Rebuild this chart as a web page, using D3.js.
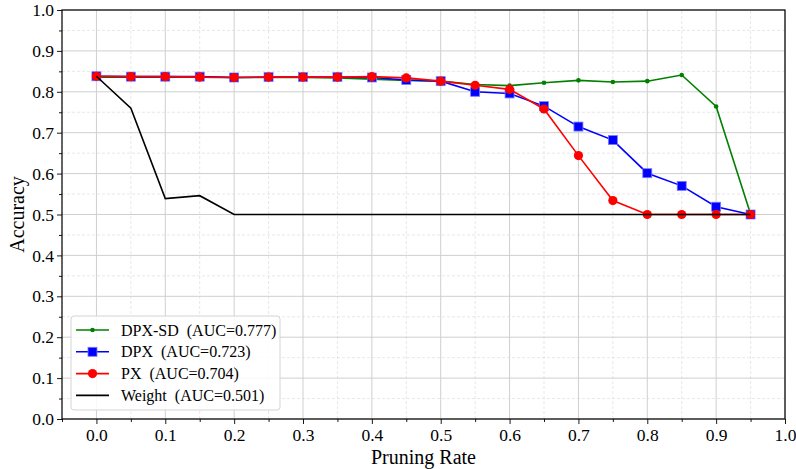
<!DOCTYPE html>
<html>
<head>
<meta charset="utf-8">
<script src="https://cdn.jsdelivr.net/npm/d3@7"></script>
<style>
  body { margin: 0; background: #fff; }
  svg text { font-family: "Liberation Serif", "Times New Roman", Times, "DejaVu Serif", serif !important; }
</style>
</head>
<body>
<script>
// pruning rates and accuracy per method
var rates = [0.0, 0.05, 0.1, 0.15, 0.2, 0.25, 0.3, 0.35, 0.4, 0.45, 0.5, 0.55, 0.6, 0.65, 0.7, 0.75, 0.8, 0.85, 0.9, 0.95];
var dpxsd = [0.836, 0.836, 0.836, 0.836, 0.835, 0.835, 0.835, 0.834, 0.831, 0.828, 0.826, 0.818, 0.815, 0.822, 0.828, 0.824, 0.826, 0.841, 0.764, 0.501];
var dpx = [0.838, 0.837, 0.837, 0.837, 0.835, 0.836, 0.836, 0.836, 0.835, 0.829, 0.826, 0.800, 0.796, 0.765, 0.715, 0.682, 0.601, 0.570, 0.519, 0.500];
var px = [0.838, 0.837, 0.837, 0.836, 0.835, 0.836, 0.836, 0.836, 0.837, 0.834, 0.826, 0.816, 0.806, 0.758, 0.644, 0.534, 0.500, 0.500, 0.500, 0.500];
var weight = [0.838, 0.760, 0.539, 0.546, 0.500, 0.500, 0.500, 0.500, 0.500, 0.500, 0.500, 0.500, 0.500, 0.500, 0.500, 0.500, 0.500, 0.500, 0.500, 0.500];
var labels = ["DPX-SD  (AUC=0.777)", "DPX  (AUC=0.723)", "PX  (AUC=0.704)", "Weight  (AUC=0.501)"];
var xTicks = [0, 0.1, 0.2, 0.3, 0.4, 0.5, 0.6, 0.7, 0.8, 0.9, 1.0];
var yTicks = [0, 0.1, 0.2, 0.3, 0.4, 0.5, 0.6, 0.7, 0.8, 0.9, 1.0];

var width = 796, height = 469;
var margin = {top: 10, right: 11, bottom: 50, left: 62};
var serif = "'Liberation Serif', 'Times New Roman', serif";

var svg = d3.select("body").append("svg")
    .attr("width", width)
    .attr("height", height)
    .attr("font-family", serif);

var x = d3.scaleLinear().domain([-0.05, 1.0]).range([margin.left, width - margin.right]);
var y = d3.scaleLinear().domain([0, 1.0]).range([height - margin.bottom, margin.top]);

var minorX = d3.range(-0.05, 1.0001, 0.05).map(function(d) { return Math.round(d * 100) / 100; })
    .filter(function(d) { return xTicks.indexOf(d) < 0; });
var minorY = d3.range(0.05, 1.0, 0.1).map(function(d) { return Math.round(d * 100) / 100; });

// grid
var grid = svg.append("g");
grid.selectAll(".mx").data(minorX).enter().append("line")
    .attr("x1", function(d) { return x(d); }).attr("x2", function(d) { return x(d); })
    .attr("y1", y(0)).attr("y2", y(1))
    .style("stroke", "#d6d6d6").style("stroke-width", 0.6).style("stroke-dasharray", "3,2");
grid.selectAll(".my").data(minorY).enter().append("line")
    .attr("x1", x(-0.05)).attr("x2", x(1.0))
    .attr("y1", function(d) { return y(d); }).attr("y2", function(d) { return y(d); })
    .style("stroke", "#d6d6d6").style("stroke-width", 0.6).style("stroke-dasharray", "3,2");
grid.selectAll(".gx").data(xTicks).enter().append("line")
    .attr("x1", function(d) { return x(d); }).attr("x2", function(d) { return x(d); })
    .attr("y1", y(0)).attr("y2", y(1))
    .style("stroke", "#cfcfcf").style("stroke-width", 1);
grid.selectAll(".gy").data(yTicks).enter().append("line")
    .attr("x1", x(-0.05)).attr("x2", x(1.0))
    .attr("y1", function(d) { return y(d); }).attr("y2", function(d) { return y(d); })
    .style("stroke", "#cfcfcf").style("stroke-width", 1);

// series
var series = [
  {vals: dpxsd, color: "green", marker: "dot"},
  {vals: dpx, color: "blue", marker: "square"},
  {vals: px, color: "red", marker: "circle"},
  {vals: weight, color: "black", marker: "none"}
];

var line = d3.line()
    .x(function(d, i) { return x(rates[i]); })
    .y(function(d) { return y(d); });

function drawMarker(g, mk, color, cx, cy) {
  if (mk == "dot") {
    g.append("circle").attr("cx", cx).attr("cy", cy).attr("r", 2.3).style("fill", color);
  } else if (mk == "square") {
    g.append("rect").attr("x", cx - 4.5).attr("y", cy - 4.5).attr("width", 9).attr("height", 9)
      .style("fill", color).style("stroke", "#7b7bff").style("stroke-width", 0.8);
  } else if (mk == "circle") {
    g.append("circle").attr("cx", cx).attr("cy", cy).attr("r", 4.6).style("fill", color);
  }
}

series.forEach(function(s) {
  var g = svg.append("g");
  g.append("path")
    .datum(s.vals)
    .attr("d", line)
    .style("fill", "none")
    .style("stroke", s.color)
    .style("stroke-width", 1.6);
  s.vals.forEach(function(v, i) { drawMarker(g, s.marker, s.color, x(rates[i]), y(v)); });
});

// frame
svg.append("rect")
    .attr("x", x(-0.05)).attr("y", y(1))
    .attr("width", x(1.0) - x(-0.05)).attr("height", y(0) - y(1))
    .style("fill", "none").style("stroke", "#000").style("stroke-width", 1.2);

// axes
svg.append("g")
    .attr("transform", "translate(0," + y(0) + ")")
    .call(d3.axisBottom(x).tickValues(xTicks).tickFormat(d3.format(".1f")).tickSize(5).tickPadding(5));
svg.append("g")
    .attr("transform", "translate(0," + y(0) + ")")
    .call(d3.axisBottom(x).tickValues(minorX).tickFormat("").tickSize(3));
svg.append("g")
    .attr("transform", "translate(" + x(-0.05) + ",0)")
    .call(d3.axisLeft(y).tickValues(yTicks).tickFormat(d3.format(".1f")).tickSize(5).tickPadding(3));
svg.append("g")
    .attr("transform", "translate(" + x(-0.05) + ",0)")
    .call(d3.axisLeft(y).tickValues(minorY).tickFormat("").tickSize(3));

svg.selectAll(".domain").remove();
svg.selectAll(".tick").each(function() { d3.select(this.parentNode).attr("font-family", serif); });
svg.selectAll(".tick text")
    .attr("font-family", serif)
    .style("font-size", "17.5px")
    .style("fill", "#000");
svg.selectAll(".tick line").style("stroke", "#000").style("stroke-width", 0.9);

// axis titles
svg.append("text")
    .attr("x", (x(-0.05) + x(1.0)) / 2)
    .attr("y", height - 5)
    .attr("text-anchor", "middle")
    .style("font-size", "20px")
    .text("Pruning Rate");
svg.append("text")
    .attr("transform", "translate(24," + ((y(0) + y(1)) / 2) + ") rotate(-90)")
    .attr("text-anchor", "middle")
    .style("font-size", "20px")
    .text("Accuracy");

// legend
var lg = svg.append("g").attr("transform", "translate(71,316)");
lg.append("rect")
    .attr("width", 209).attr("height", 94).attr("rx", 3)
    .style("fill", "rgba(255,255,255,0.85)")
    .style("stroke", "#d4d4d4").style("stroke-width", 1);
series.forEach(function(s, i) {
  var cy = 14 + i * 21.8;
  lg.append("line").attr("x1", 5).attr("x2", 38).attr("y1", cy).attr("y2", cy)
    .style("stroke", s.color).style("stroke-width", 1.6);
  drawMarker(lg, s.marker, s.color, 21.5, cy);
  lg.append("text")
    .attr("x", 50).attr("y", cy + 5.5)
    .style("font-size", "16px")
    .style("white-space", "pre")
    .text(labels[i]);
});
</script>
</body>
</html>
